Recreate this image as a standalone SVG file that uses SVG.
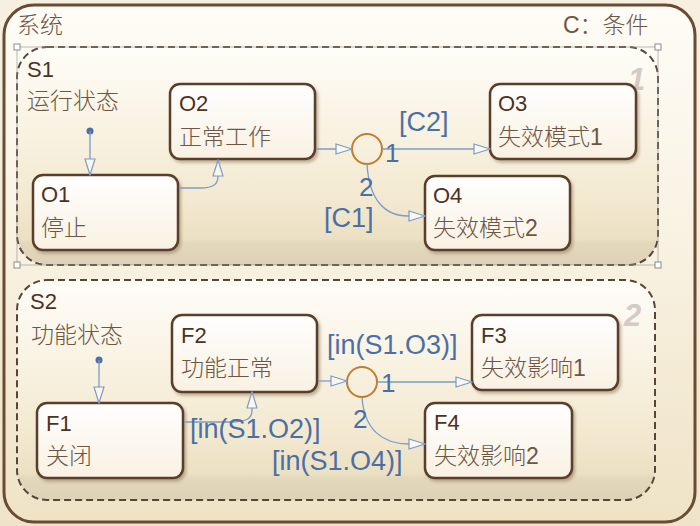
<svg xmlns="http://www.w3.org/2000/svg" width="700" height="526" viewBox="0 0 700 526">
<defs>
<linearGradient id="bgG" x1="0" y1="0" x2="0" y2="1">
<stop offset="0" stop-color="#f7f0e0"/><stop offset="1" stop-color="#efe4ca"/>
</linearGradient>
<linearGradient id="frameG" x1="0" y1="0" x2="0" y2="1">
<stop offset="0" stop-color="#fefcf6"/><stop offset="0.5" stop-color="#f8f1e0"/><stop offset="1" stop-color="#efe3c6"/>
</linearGradient>
<linearGradient id="regionG" x1="0" y1="0" x2="0" y2="1">
<stop offset="0" stop-color="#fffdf8"/><stop offset="0.7" stop-color="#f3e9d0"/><stop offset="0.88" stop-color="#ece0c2"/><stop offset="0.9" stop-color="#e4d8bc"/><stop offset="1" stop-color="#ddd1b6"/>
</linearGradient>
<linearGradient id="nodeG" x1="0" y1="0" x2="0" y2="1">
<stop offset="0" stop-color="#ffffff"/><stop offset="1" stop-color="#f9f1e2"/>
</linearGradient>
<filter id="sh" x="-10%" y="-10%" width="130%" height="140%">
<feDropShadow dx="2" dy="2.5" stdDeviation="1.5" flood-color="#7a6040" flood-opacity="0.45"/>
</filter>
<marker id="arr" markerUnits="userSpaceOnUse" markerWidth="18" markerHeight="12" refX="16" refY="5" orient="auto" viewBox="-1 -1 18 12">
<path d="M0,0 L16,5 L0,10 Z" fill="#fbf7ee" stroke="#7a9cc6" stroke-width="1.2"/>
</marker>
</defs>
<style>
.frame{fill:url(#frameG);stroke:#6a4b33;stroke-width:3}
.region{fill:url(#regionG);stroke:#574638;stroke-width:2;stroke-dasharray:7 4}
.node rect{fill:url(#nodeG);stroke:#5a3e2b;stroke-width:2.5;filter:url(#sh)}
.id{font-family:"Liberation Sans","Noto Sans CJK SC",sans-serif;font-size:22px;fill:#4e321e}
.cn{font-family:"Liberation Sans","Noto Sans CJK SC",sans-serif;font-size:23px;fill:#6e5544;font-weight:300}
.lbl{font-family:"Liberation Sans","Noto Sans CJK SC",sans-serif;font-size:27px;fill:#4a6fa5}
.num{font-family:"Liberation Sans",sans-serif;font-size:26px;fill:#4a6fa5}
.big{font-family:"Liberation Sans",sans-serif;font-size:31px;font-weight:bold;font-style:italic;fill:#d4ccc4}
.conn path{fill:none;stroke:#7a9cc6;stroke-width:1.3}
.junc{fill:none;stroke:#c17c2e;stroke-width:2}
.handle{fill:#ffffff;stroke:#8a8a8a;stroke-width:1}
</style>
<rect x="0" y="0" width="700" height="526" fill="url(#bgG)"/>
<g id="system">
<rect class="frame" x="4" y="5" width="691" height="517" rx="30"/>
<text class="cn" x="17" y="33">系统</text>
<text class="cn" x="563" y="33">C：条件</text>
</g>
<g id="S1">
<rect class="region" x="17" y="47" width="641" height="218" rx="30"/>
<rect x="17" y="47" width="641" height="218" fill="none" stroke="#9a9a9a" stroke-width="0.7"/>
<rect class="handle" x="14" y="44" width="6" height="6"/>
<rect class="handle" x="655" y="44" width="6" height="6"/>
<rect class="handle" x="14" y="262" width="6" height="6"/>
<rect class="handle" x="655" y="262" width="6" height="6"/>
<text class="id" x="27" y="77">S1</text>
<text class="cn" x="27" y="109">运行状态</text>
<text class="big" x="628" y="90">1</text>
<circle cx="90" cy="131" r="3.5" fill="#4d6fa3"/>
</g>
<g id="S2">
<rect class="region" x="17" y="280" width="638" height="220" rx="30"/>
<text class="id" x="30" y="309">S2</text>
<text class="cn" x="31" y="343">功能状态</text>
<text class="big" x="624" y="326">2</text>
<circle cx="99" cy="360" r="3.5" fill="#4d6fa3"/>
</g>
<g id="O1" class="node"><rect x="33" y="175" width="145" height="75" rx="10"/><text class="id" x="41" y="202">O1</text><text class="cn" x="41" y="236">停止</text></g>
<g id="O2" class="node"><rect x="170" y="84" width="145" height="75" rx="10"/><text class="id" x="179" y="111">O2</text><text class="cn" x="179" y="145">正常工作</text></g>
<g id="O3" class="node"><rect x="490" y="84" width="146" height="75" rx="10"/><text class="id" x="498" y="111">O3</text><text class="cn" x="498" y="145">失效模式1</text></g>
<g id="O4" class="node"><rect x="425" y="176" width="145" height="74" rx="10"/><text class="id" x="433" y="203">O4</text><text class="cn" x="433" y="236">失效模式2</text></g>
<g id="F1" class="node"><rect x="37" y="403" width="146" height="75" rx="10"/><text class="id" x="46" y="431">F1</text><text class="cn" x="46" y="464">关闭</text></g>
<g id="F2" class="node"><rect x="172" y="315" width="145" height="77" rx="10"/><text class="id" x="181" y="343">F2</text><text class="cn" x="181" y="376">功能正常</text></g>
<g id="F3" class="node"><rect x="472" y="315" width="146" height="75" rx="10"/><text class="id" x="481" y="343">F3</text><text class="cn" x="481" y="376">失效影响1</text></g>
<g id="F4" class="node"><rect x="425" y="403" width="147" height="75" rx="10"/><text class="id" x="434" y="430">F4</text><text class="cn" x="434" y="464">失效影响2</text></g>
<g id="J1"><circle class="junc" cx="367" cy="149" r="15"/></g>
<g id="J2"><circle class="junc" cx="362" cy="382" r="15"/></g>
<g id="connectors" class="conn">
<path d="M90,131 L90,175" marker-end="url(#arr)"/>
<path d="M179,188 L200,188 C214,188 218,184 218,176 L218,160" marker-end="url(#arr)"/>
<path d="M316,149 L352,149" marker-end="url(#arr)"/>
<path d="M382,149 L490,149" marker-end="url(#arr)"/>
<path d="M367,164 C369,200 385,216 408,216 L425,216" marker-end="url(#arr)"/>
<path d="M99,360 L99,403" marker-end="url(#arr)"/>
<path d="M184,422 L230,422 C248,422 252,418 252,410 L252,392" marker-end="url(#arr)"/>
<path d="M318,381 L347,381" marker-end="url(#arr)"/>
<path d="M377,382 L472,382" marker-end="url(#arr)"/>
<path d="M362,397 C364,430 383,444 409,444 L425,444" marker-end="url(#arr)"/>
</g>
<g id="labels">
<text class="lbl" x="399" y="131">[C2]</text>
<text class="num" x="385" y="162">1</text>
<text class="num" x="359" y="196">2</text>
<text class="lbl" x="324" y="227">[C1]</text>
<text class="lbl" x="327" y="354">[in(S1.O3)]</text>
<text class="num" x="381" y="392">1</text>
<text class="num" x="353" y="428">2</text>
<text class="lbl" x="190" y="438">[in(S1.O2)]</text>
<text class="lbl" x="272" y="470">[in(S1.O4)]</text>
</g>
</svg>
